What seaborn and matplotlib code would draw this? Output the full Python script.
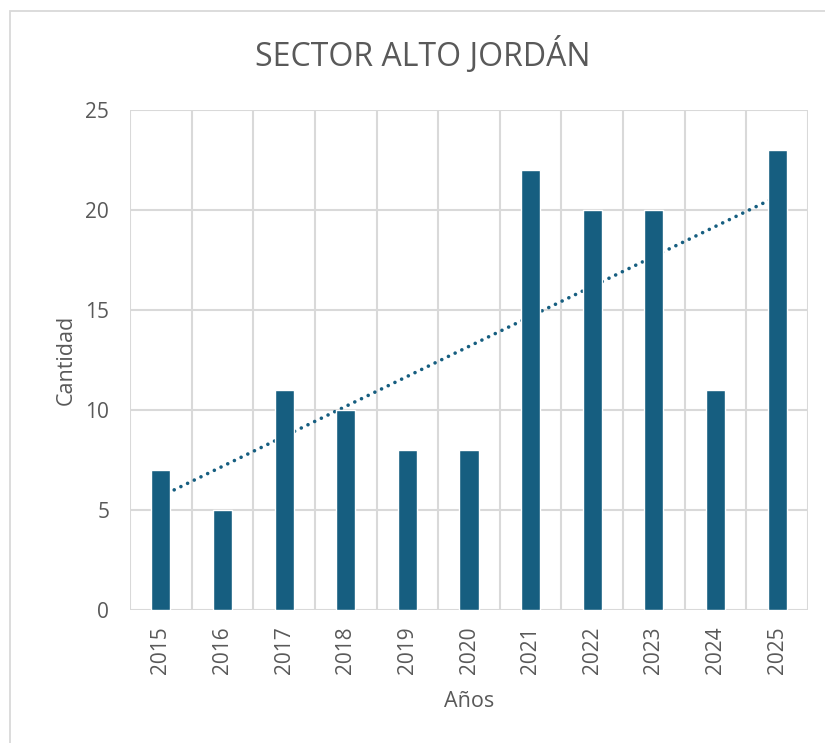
import numpy as np
import pandas as pd
import seaborn as sns
import matplotlib.pyplot as plt
from matplotlib.patches import Rectangle

# Annual counts for the sector
years = ["2015", "2016", "2017", "2018", "2019", "2020",
         "2021", "2022", "2023", "2024", "2025"]
cantidad = [7, 5, 11, 10, 8, 8, 22, 20, 20, 11, 23]
y_ticks = [0, 5, 10, 15, 20, 25]

BAR = "#165E80"
GRID = "#D9D9D9"
TEXT = "#595959"

sns.set_theme(style="white")
plt.rcParams["font.family"] = ["Open Sans", "DejaVu Sans"]

df = pd.DataFrame({"Año": years, "Cantidad": cantidad})

W, H = 825, 743
fig = plt.figure(figsize=(W / 100, H / 100), dpi=100)
ax = fig.add_axes([130 / W, (H - 610) / H, 678 / W, 500 / H])

sns.barplot(data=df, x="Año", y="Cantidad", color=BAR, width=0.31,
            saturation=1, ax=ax, zorder=3)

# Linear trend line, drawn behind the bars
xs = np.arange(len(years))
slope, intercept = np.polyfit(xs, cantidad, 1)
ax.plot(xs, slope * xs + intercept, color=BAR, lw=2.6,
        linestyle=(0, (0.01, 2.05)), dash_capstyle="round", zorder=2)

ax.set_xlim(-0.5, len(years) - 0.5)
ax.set_ylim(0, 25)
ax.set_yticks(y_ticks)
ax.set_xticks(np.arange(-0.5, len(years)), minor=True)
ax.grid(False)
ax.yaxis.grid(True, color=GRID, lw=1.5, zorder=0)
ax.xaxis.grid(True, which="minor", color=GRID, lw=1.5, zorder=0)
ax.set_axisbelow(True)
for s in ax.spines.values():
    s.set_visible(False)

ax.tick_params(axis="both", which="both", length=0, colors=TEXT,
               labelsize=15)
ax.tick_params(axis="y", pad=15)
ax.tick_params(axis="x", pad=12)
plt.setp(ax.get_xticklabels(), rotation=90)

ax.set_xlabel("Años", color=TEXT, fontsize=15.5, labelpad=12)
ax.set_ylabel("Cantidad", color=TEXT, fontsize=15.5, labelpad=6)
fig.text(423 / W, 1 - 55 / H, "SECTOR ALTO JORDÁN", ha="center",
         va="center", color=TEXT, fontsize=23)

# Chart frame
fig.patches.append(Rectangle((10 / W, -0.05), 1.0, 1 - 11 / H + 0.05,
                             transform=fig.transFigure, fill=False,
                             edgecolor=GRID, lw=1.3))

fig.savefig("out.png", dpi=100)
